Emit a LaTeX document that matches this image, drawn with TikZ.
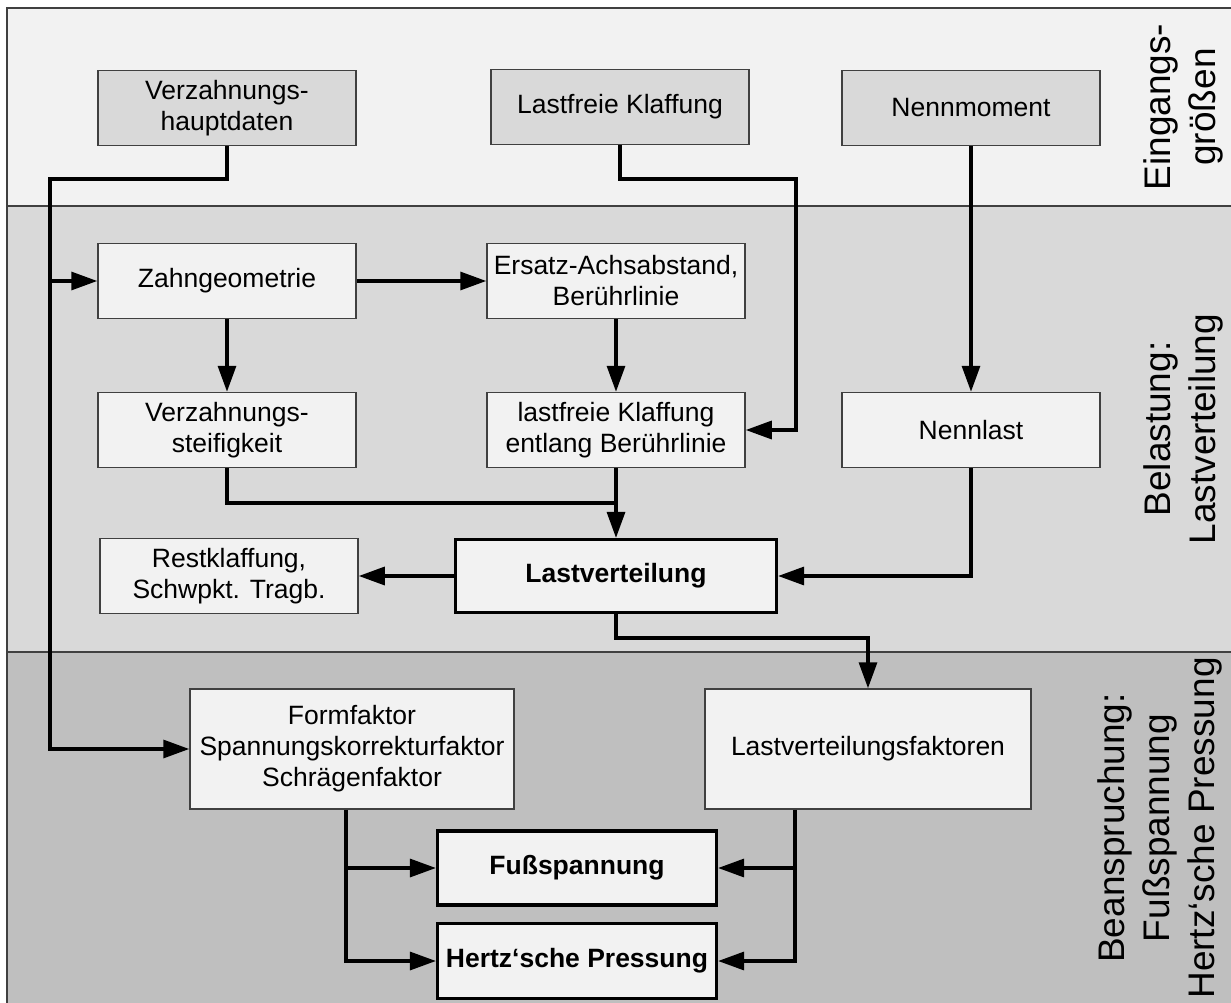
\documentclass[tikz,border=0pt]{standalone}
\usepackage{fontspec}
\setmainfont{Liberation Sans}
\usepackage{xcolor}
\usepackage{tikz}
\usetikzlibrary{arrows.meta}
\definecolor{bandA}{HTML}{F2F2F2}
\definecolor{bandB}{HTML}{D9D9D9}
\definecolor{bandC}{HTML}{BFBFBF}
\definecolor{boxfill}{HTML}{F2F2F2}
\definecolor{infill}{HTML}{D9D9D9}
\definecolor{edge}{HTML}{404040}
\tikzset{
  frame/.style={draw=edge, line width=1.5pt},
  box/.style={draw=edge, line width=1.5pt, fill=boxfill, inner sep=0pt,
    minimum width=258pt, minimum height=75pt, align=center,
    font=\fontsize{26.5}{31}\selectfont},
  inbox/.style={box, fill=infill},
  mainbox/.style={box, draw=black, line width=3.2pt, font=\fontsize{26.5}{31}\selectfont\bfseries},
  conn/.style={draw=black, line width=3.2pt, -{Triangle[length=26pt, width=18pt]}},
  plain/.style={draw=black, line width=3.2pt},
  sidelbl/.style={rotate=90, align=center, font=\fontsize{37}{45}\selectfont}
}
\begin{document}
\begin{tikzpicture}[x=1pt, y=-1pt]
  \useasboundingbox (0,0) rectangle (1231,1003);

  % bands
  \fill[bandA] (7,8) rectangle (1240,206);
  \fill[bandB] (7,206) rectangle (1240,652);
  \fill[bandC] (7,652) rectangle (1240,1010);
  \draw[frame] (7,1010) -- (7,8) -- (1240,8);
  \draw[frame] (7,206) -- (1240,206);
  \draw[frame] (7,652) -- (1240,652);

  \node[sidelbl] (lblin) at (1183,107) {Eingangs-\\größen};
  \node[sidelbl] (lblload) at (1183,429) {Belastung:\\Lastverteilung};
  \node[sidelbl] (lblstress) at (1160,828) {Beanspruchung:\\Fußspannung\\Hertz‘sche Pressung};

  % inputs
  \node[inbox] (hdaten) at (227,108) {Verzahnungs-\\hauptdaten};
  \node[inbox] (klaff0) at (620,107) {Lastfreie Klaffung};
  \node[inbox] (moment) at (971,108) {Nennmoment};

  % load distribution
  \node[box] (geom) at (227,281) {Zahngeometrie};
  \node[box] (ersatz) at (616,281) {Ersatz-Achsabstand,\\Berührlinie};
  \node[box] (steif) at (227,430) {Verzahnungs-\\steifigkeit};
  \node[box] (klaff) at (616,430) {lastfreie Klaffung\\entlang Berührlinie};
  \node[box] (nlast) at (971,430) {Nennlast};
  \node[box] (rest) at (229,576) {Restklaffung,\\Schwpkt. Tragb.};
  \node[mainbox, minimum width=321pt, minimum height=73pt] (lv) at (616,576) {Lastverteilung};

  % stresses
  \node[box, minimum width=324pt, minimum height=120pt] (form) at (352,749)
    {Formfaktor\\Spannungskorrekturfaktor\\Schrägenfaktor};
  \node[box, minimum width=326pt, minimum height=120pt] (lvf) at (868,749) {Lastverteilungsfaktoren};
  \node[mainbox, minimum width=279pt, minimum height=74pt] (fuss) at (577,868) {Fußspannung};
  \node[mainbox, minimum width=279pt, minimum height=75pt] (hertz) at (577,961) {Hertz‘sche Pressung};

  \coordinate (jA) at (50,179);
  \coordinate (jB) at (796,179);
  \coordinate (jC) at (616,503);
  \coordinate (jD) at (616,638);
  \coordinate (jE) at (346,962);
  \coordinate (jF) at (795,962);

  % connectors
  \draw[conn] (hdaten.south) |- (jA) |- (form.west);
  \draw[conn] (jA |- geom.west) -- (geom.west);
  \draw[conn] (geom.east) -- (ersatz.west);
  \draw[conn] (geom.south) -- (steif.north);
  \draw[conn] (ersatz.south) -- (klaff.north);
  \draw[conn] (klaff0.south) |- (jB) |- (klaff.east);
  \draw[conn] (moment.south) -- (nlast.north);
  \draw[plain] (steif.south) |- (jC);
  \draw[conn] (klaff.south) -- (lv.north);
  \draw[conn] (nlast.south) |- (lv.east);
  \draw[conn] (lv.west) -- (rest.east);
  \draw[conn] (lv.south) -- (jD) -| (lvf.north);
  \draw[conn] (form.south -| jE) |- (hertz.west);
  \draw[conn] (jE |- fuss.west) -- (fuss.west);
  \draw[conn] (lvf.south -| jF) |- (hertz.east);
  \draw[conn] (jF |- fuss.east) -- (fuss.east);
\end{tikzpicture}
\end{document}
